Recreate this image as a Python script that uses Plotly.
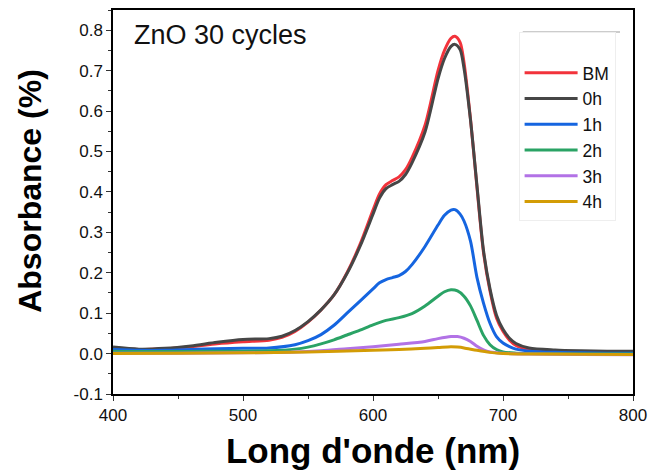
import plotly.graph_objects as go

# ---- data (wavelength in nm, absorbance) ----
x_bm = [400, 420, 440, 460, 480, 500, 520, 530, 540, 550, 560, 570, 580, 590, 600, 605, 610, 615, 620, 625, 630, 640, 650, 655, 660, 663, 667, 670, 675, 680, 685, 690, 695, 700, 705, 710, 720, 740, 760, 780, 800]
y_bm = [0.013, 0.010, 0.012, 0.017, 0.024, 0.029, 0.033, 0.040, 0.055, 0.078, 0.108, 0.145, 0.200, 0.270, 0.355, 0.395, 0.418, 0.428, 0.437, 0.455, 0.485, 0.565, 0.700, 0.750, 0.780, 0.785, 0.770, 0.720, 0.580, 0.410, 0.250, 0.155, 0.088, 0.055, 0.033, 0.020, 0.010, 0.005, 0.003, 0.002, 0.002]

x_0h = [400, 420, 440, 460, 480, 500, 520, 530, 540, 550, 560, 570, 580, 590, 600, 605, 610, 615, 620, 625, 630, 640, 650, 655, 660, 663, 667, 670, 675, 680, 685, 690, 695, 700, 705, 710, 720, 740, 760, 780, 800]
y_0h = [0.016, 0.011, 0.013, 0.019, 0.028, 0.035, 0.037, 0.043, 0.057, 0.079, 0.108, 0.145, 0.198, 0.265, 0.345, 0.385, 0.408, 0.418, 0.426, 0.443, 0.472, 0.548, 0.680, 0.730, 0.760, 0.765, 0.752, 0.706, 0.578, 0.415, 0.255, 0.160, 0.095, 0.060, 0.038, 0.025, 0.014, 0.009, 0.007, 0.006, 0.006]

x_1h = [400, 420, 440, 460, 480, 500, 520, 540, 550, 560, 570, 580, 590, 600, 605, 610, 615, 620, 625, 630, 640, 650, 655, 660, 663, 667, 670, 675, 680, 685, 690, 695, 700, 705, 710, 720, 740, 760, 780, 800]
y_1h = [0.010, 0.008, 0.008, 0.010, 0.012, 0.013, 0.014, 0.022, 0.032, 0.047, 0.070, 0.100, 0.130, 0.160, 0.175, 0.183, 0.188, 0.193, 0.203, 0.220, 0.265, 0.318, 0.342, 0.355, 0.356, 0.345, 0.328, 0.278, 0.188, 0.125, 0.075, 0.042, 0.026, 0.017, 0.011, 0.006, 0.003, 0.002, 0.001, 0.001]

x_2h = [400, 420, 440, 460, 480, 500, 520, 540, 550, 560, 570, 580, 590, 600, 610, 620, 630, 640, 650, 655, 660, 665, 670, 675, 680, 685, 690, 695, 700, 710, 720, 760, 800]
y_2h = [0.006, 0.005, 0.005, 0.005, 0.006, 0.006, 0.007, 0.011, 0.016, 0.024, 0.034, 0.046, 0.058, 0.071, 0.082, 0.089, 0.099, 0.118, 0.142, 0.153, 0.158, 0.155, 0.142, 0.118, 0.082, 0.045, 0.022, 0.010, 0.004, 0.001, 0.000, -0.001, -0.001]

x_3h = [400, 450, 500, 540, 560, 580, 600, 620, 640, 650, 660, 665, 670, 675, 680, 685, 690, 700, 720, 760, 800]
y_3h = [0.001, 0.001, 0.002, 0.004, 0.007, 0.012, 0.017, 0.023, 0.030, 0.037, 0.042, 0.042, 0.038, 0.030, 0.018, 0.009, 0.004, 0.001, -0.001, -0.002, -0.003]

x_4h = [400, 450, 500, 550, 600, 620, 640, 650, 660, 665, 670, 680, 690, 700, 720, 800]
y_4h = [0.000, 0.001, 0.002, 0.004, 0.008, 0.010, 0.013, 0.015, 0.017, 0.016, 0.014, 0.008, 0.003, 0.000, -0.001, -0.002]

series_names = ["BM", "0h", "1h", "2h", "3h", "4h"]
series_x = [x_bm, x_0h, x_1h, x_2h, x_3h, x_4h]
series_y = [y_bm, y_0h, y_1h, y_2h, y_3h, y_4h]
series_colors = ["#F2333B", "#464646", "#1565E0", "#2AA365", "#B272E6", "#D39C05"]

x_ticks = [400, 500, 600, 700, 800]
y_ticks = [-0.1, 0.0, 0.1, 0.2, 0.3, 0.4, 0.5, 0.6, 0.7, 0.8]

FONT = "Arial, 'Liberation Sans', sans-serif"

fig = go.Figure()
for name, xs, ys, col in zip(series_names, series_x, series_y, series_colors):
    fig.add_trace(go.Scatter(
        x=xs, y=ys, name=name, mode="lines",
        line=dict(color=col, width=3, shape="spline", smoothing=0.8),
    ))

fig.update_layout(
    width=660, height=470,
    margin=dict(l=113, r=27, t=10, b=76),
    paper_bgcolor="white", plot_bgcolor="white",
    font=dict(family=FONT, color="#111"),
    showlegend=True,
    legend=dict(
        x=0.78, y=0.943, xanchor="left", yanchor="top",
        bgcolor="rgba(255,255,255,0)", bordercolor="#eeeeee", borderwidth=1,
        font=dict(size=17.5, family=FONT, color="#111"),
        title=dict(text=" ", font=dict(size=17)),
        itemwidth=53, tracegroupgap=0,
    ),
    annotations=[
        dict(
            text="ZnO 30 cycles", x=0.036, y=0.935, xref="paper", yref="paper",
            xanchor="left", yanchor="middle", showarrow=False,
            font=dict(size=27, family=FONT, color="#111"),
        ),
        dict(
            text="<b>Absorbance (%)</b>", textangle=-90,
            x=-0.159, y=0.53, xref="paper", yref="paper",
            xanchor="center", yanchor="middle", showarrow=False,
            font=dict(size=32, family=FONT, color="black"),
        ),
    ],
    shapes=[dict(
        type="line", xref="paper", yref="paper",
        x0=0.788, x1=0.975, y0=0.9427, y1=0.9427,
        line=dict(color="#999999", width=1),
    )],
)

fig.update_xaxes(
    range=[400, 800], tickvals=x_ticks, ticktext=[str(v) for v in x_ticks],
    showgrid=False, zeroline=False, automargin=False,
    showline=True, linecolor="black", linewidth=1.5, mirror=True,
    ticks="outside", ticklen=5, tickwidth=1.3, tickcolor="#333",
    minor=dict(ticks="outside", ticklen=3, dtick=50, tickcolor="#333", tickwidth=1),
    tickfont=dict(size=17, family=FONT, color="#111"),
    title=dict(text="<b>Long d'onde (nm)</b>", font=dict(size=35, family=FONT, color="black"), standoff=19),
)
fig.update_yaxes(
    range=[-0.1, 0.85], tickvals=y_ticks, ticktext=[f"{v:.1f}" for v in y_ticks],
    showgrid=False, zeroline=False, automargin=False,
    showline=True, linecolor="black", linewidth=1.5, mirror=True,
    ticks="outside", ticklen=5, tickwidth=1.3, tickcolor="#333",
    minor=dict(ticks="outside", ticklen=3, dtick=0.05, tickcolor="#333", tickwidth=1),
    tickfont=dict(size=17, family=FONT, color="#111"),
)

fig.write_html("out.html", config={"displayModeBar": False},
               post_script="document.body.style.margin='0';")
